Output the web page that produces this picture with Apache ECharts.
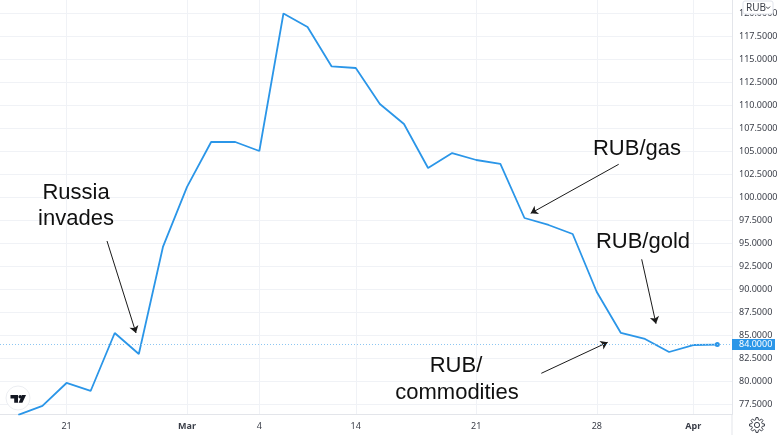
<!DOCTYPE html>
<html><head><meta charset="utf-8">
<style>html,body{margin:0;padding:0;background:#fff}#c{width:780px;height:435px}</style>
<script src="https://cdn.jsdelivr.net/npm/echarts@6/dist/echarts.min.js"></script>
</head><body><div id="c"></div>
<script>
const rubValues = [76.34,77.32,79.82,78.95,85.26,82.97,94.62,101.15,106.04,106.04,105.06,120.02,118.55,114.26,114.09,110.18,108.0,103.21,104.84,104.08,103.65,97.77,97.01,96.03,89.72,85.26,84.61,83.19,83.95,84.0];
const xTickIndex = [2,7,10,14,19,24,28];
const xTickLabels = ['21','Mar','4','14','21','28','Apr'];
const yTicks = [77.5,80,82.5,85,87.5,90,92.5,95,97.5,100,102.5,105,107.5,110,112.5,115,117.5,120];
const lastPrice = 84.0;

const BLUE = '#2b96e8';
const seriesData = rubValues.map((v,i)=>[i,v]);

function gearPoints(cx,cy,R,r,n){
  const pts=[];
  for(let i=0;i<n;i++){
    const a=i/n*2*Math.PI, w=Math.PI/n*0.5;
    [[R,a-w*0.7],[R,a+w*0.7],[r,a+w*1.3],[r,a+2*Math.PI/n-w*1.3]].forEach(p=>{
      pts.push([cx+p[0]*Math.cos(p[1]),cy+p[0]*Math.sin(p[1])]);
    });
  }
  return pts;
}
const annoFont = {fontFamily:'"Liberation Sans",Arial,sans-serif',fontSize:22,fill:'#111',textAlign:'center',textVerticalAlign:'middle'};
function anno(text,x,y){return {type:'text',z:20,x,y,style:Object.assign({text},annoFont)};}
function arrow(x1,y1,x2,y2){return [{x:x1,y:y1},{x:x2,y:y2}];}

const chart = echarts.init(document.getElementById('c'),null,{renderer:'canvas'});
chart.setOption({
  animation:false,
  backgroundColor:'#fff',
  grid:{left:0,right:48,top:0,bottom:20.5,containLabel:false,outerBoundsMode:'none'},
  xAxis:{
    type:'value',min:-0.76,max:29.61,
    axisLine:{show:true,onZero:false,lineStyle:{color:'#e3e5ea',width:1}},
    axisTick:{show:false,customValues:xTickIndex},
    splitLine:{show:true,lineStyle:{color:'#f0f2f6',width:1}},
    axisLabel:{
      customValues:xTickIndex,margin:7,color:'#3a3e48',fontSize:9,fontFamily:'"Noto Sans",sans-serif',
      formatter:v=>{const s=xTickLabels[xTickIndex.indexOf(v)]||'';return /[A-Za-z]/.test(s)?'{b|'+s+'}':s;},
      rich:{b:{fontWeight:'bold',fontSize:9,color:'#3a3e48',fontFamily:'"Noto Sans",sans-serif'}}
    }
  },
  yAxis:{
    type:'value',position:'right',min:76.39,max:121.49,
    axisLine:{show:true,onZero:false,lineStyle:{color:'#e3e5ea',width:1}},
    axisTick:{show:false,customValues:yTicks},
    splitLine:{show:true,lineStyle:{color:'#f0f2f6',width:1}},
    axisLabel:{customValues:yTicks,margin:7,color:'#3a3e48',fontSize:9,fontFamily:'"Noto Sans",sans-serif',formatter:v=>v.toFixed(4)}
  },
  series:[
    {type:'line',data:seriesData,showSymbol:false,symbol:'none',clip:true,silent:true,z:5,
     lineStyle:{color:BLUE,width:1.8},
     markPoint:{silent:true,symbol:'circle',symbolSize:5,itemStyle:{color:BLUE},label:{show:false},
       data:[{coord:seriesData[seriesData.length-1]}]},
     markLine:{silent:true,symbol:'none',z:6,
       lineStyle:{color:'#8cc6f2',type:[1,2],width:1},
       label:{show:true,position:'end',distance:0,formatter:lastPrice.toFixed(4),color:'#fff',backgroundColor:BLUE,
         fontSize:9,lineHeight:9,fontFamily:'"Noto Sans",sans-serif',padding:[1,2,1,7],width:34,align:'left'},
       data:[{yAxis:lastPrice}]}
    },
    {type:'line',data:[],silent:true,z:10,
     markLine:{silent:true,symbol:['none','arrow'],symbolSize:7,precision:4,
       lineStyle:{color:'#1a1a1a',type:'solid',width:1},label:{show:false},
       data:[arrow(107,241,136,333),arrow(618.7,164.3,530.7,213.3),arrow(641.7,259.3,656,323.7),arrow(541.3,373.3,607.7,342.3)]}
    }
  ],
  graphic:[
    anno('Russia',76,192.5),anno('invades',76,218.5),
    anno('RUB/gas',637,148.5),anno('RUB/gold',643,241.5),
    anno('RUB/',456,365.5),anno('commodities',457,392.5),
    {type:'rect',z:30,shape:{x:743,y:1,width:30,height:13,r:2},style:{fill:'#fff',stroke:'#e0e3eb',lineWidth:1}},
    {type:'text',z:31,x:746,y:7.8,style:{text:'RUB',fontFamily:'"Noto Sans",sans-serif',fontSize:10,fill:'#3a3e48',textVerticalAlign:'middle'}},
    {type:'polyline',z:31,shape:{points:[[766,6.6],[768,8.6],[770,6.6]]},style:{fill:'none',stroke:'#3a3e48',lineWidth:1}},
    {type:'line',z:3,shape:{x1:732,y1:414,x2:732,y2:435},style:{stroke:'#e3e5ea',lineWidth:1}},
    {type:'polygon',z:30,shape:{points:gearPoints(757,425,7.5,5.4,8)},style:{fill:'#fff',stroke:'#3a3e48',lineWidth:1}},
    {type:'circle',z:31,shape:{cx:757,cy:425,r:2.6},style:{fill:'#fff',stroke:'#3a3e48',lineWidth:1}},
    {type:'circle',z:30,shape:{cx:18,cy:398,r:12},style:{fill:'#fff',stroke:'#eceef2',lineWidth:1}},
    {type:'polygon',z:31,shape:{points:[[10.5,395],[18,395],[18,402.8],[14.2,402.8],[14.2,398.4],[10.5,398.4]]},style:{fill:'#131722'}},
    {type:'circle',z:31,shape:{cx:20.2,cy:396.8,r:1.8},style:{fill:'#131722'}},
    {type:'polygon',z:31,shape:{points:[[22,395],[26,395],[22.4,402.8],[18.6,402.8]]},style:{fill:'#131722'}}
  ]
});
</script></body></html>
